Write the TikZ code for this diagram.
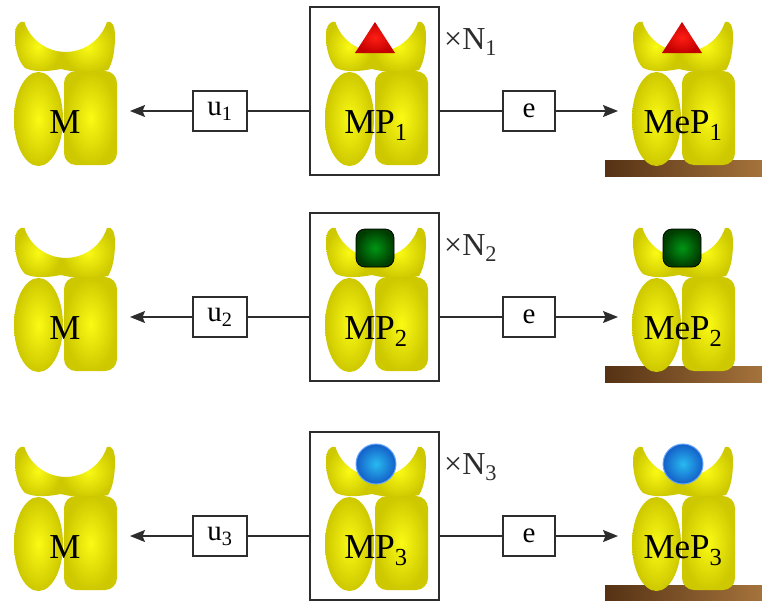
\documentclass[tikz,border=0pt]{standalone}
\usepackage{fontspec}
\setmainfont{Liberation Serif}
\usepackage{xcolor}
\usetikzlibrary{arrows.meta}

\definecolor{yelin}{RGB}{250,250,20}
\definecolor{yelout}{RGB}{205,200,0}
\definecolor{redin}{RGB}{255,30,20}
\definecolor{redout}{RGB}{195,0,0}
\definecolor{grnin}{RGB}{0,150,20}
\definecolor{grnout}{RGB}{0,60,0}
\definecolor{bluin}{RGB}{40,185,240}
\definecolor{bluout}{RGB}{20,95,200}
\definecolor{blurim}{RGB}{100,165,255}
\definecolor{woodl}{RGB}{85,50,20}
\definecolor{woodr}{RGB}{165,115,60}
\definecolor{linegray}{RGB}{45,45,45}

\newcommand{\moltext}{\fontsize{35}{40}\selectfont}
\newcommand{\ratetext}{\fontsize{29}{34}\selectfont}

\tikzset{
	pics/receptor/.style={code={
		% left and right halves of the cup
		\shade[inner color=yelin, outer color=yelout]
			(11,-22) .. controls (5,-20) and (1,-26) .. (1,-36)
			.. controls (1,-50) and (5,-62) .. (11,-68)
			.. controls (22,-73) and (36,-71) .. (47,-69)
			-- (47,-51.65) arc[start angle=-96.2, end angle=-161.8, radius=43.5] -- cycle;
		\shade[inner color=yelin, outer color=yelout]
			(47,-51.65) -- (47,-69)
			.. controls (62,-73) and (82,-73) .. (94,-70)
			.. controls (99,-62) and (101,-50) .. (101,-36)
			.. controls (101,-26) and (98,-20) .. (93,-22)
			arc[start angle=-18.2, end angle=-96.2, radius=43.5] -- cycle;
		% two lower lobes
		\shade[inner color=yelin, outer color=yelout] (24.5,-119) ellipse [x radius=24.5, y radius=47];
		\shade[inner color=yelin, outer color=yelout, rounded corners=12pt] (50,-71) rectangle (103,-165);
		\node[font=\moltext, anchor=base, inner sep=0pt] (-lab) at (51,-133) {#1};
	}},
	pics/ligand/.style={code={
		\ifcase#1\or
			\shade[inner color=redin, outer color=redout] (50,-22) -- (70,-53) -- (30,-53) -- cycle;
		\or
			\shade[inner color=grnin, outer color=grnout, draw=black, line width=0.8pt, rounded corners=9pt] (31,-23) rectangle (69,-61);
		\or
			\shade[inner color=bluin, outer color=bluout, draw=blurim, line width=1pt] (51,-39) circle (20);
		\fi
	}},
	ratebox/.style={draw=linegray, line width=1.3pt, fill=white, minimum width=54pt, minimum height=40pt, inner sep=0pt, font=\ratetext},
	link/.style={draw=linegray, line width=1.3pt},
	tip/.style={-{Stealth[length=15pt, width=12pt, inset=2.5pt]}}
}

\begin{document}
\begin{tikzpicture}[x=1pt, y=1pt]
	\useasboundingbox (0,0) rectangle (762,-600);

	\foreach \r/\dy in {1/0, 2/-206, 3/-425}
	{
		\begin{scope}[shift={(0,\dy)}]
			% surface under the bound form
			\shade[left color=woodl, right color=woodr] (605,-160) rectangle (762,-176);

			\pic (m\r) at (14,0) {receptor={M}};
			\pic (mp\r) at (325,0) {receptor={MP\textsubscript{\r}}};
			\pic (mep\r) at (632,0) {receptor={MeP\textsubscript{\r}}};
			\pic (lmp\r) at (325,0) {ligand=\r};
			\pic (lmep\r) at (632,0) {ligand=\r};

			\node[draw=linegray, line width=1.3pt, minimum width=129pt, minimum height=168pt] (box\r) at (374.5,-91) {};
			\node[font=\fontsize{32}{36}\selectfont, text=linegray, anchor=base west, inner sep=0pt] (n\r) at (444,-49) {×N\textsubscript{\r}};

			\node[ratebox] (u\r) at (220,-111) {u\textsubscript{\r}};
			\node[ratebox, minimum width=52pt] (e\r) at (529,-111) {e};
			\coordinate (tipm\r) at (130,-111);
			\coordinate (tipmep\r) at (618,-111);

			\draw[link] (box\r.west |- u\r.east) -- (u\r.east);
			\draw[link, tip] (u\r.west) -- (tipm\r);
			\draw[link] (box\r.east |- e\r.west) -- (e\r.west);
			\draw[link, tip] (e\r.east) -- (tipmep\r);
		\end{scope}
	}
\end{tikzpicture}
\end{document}
